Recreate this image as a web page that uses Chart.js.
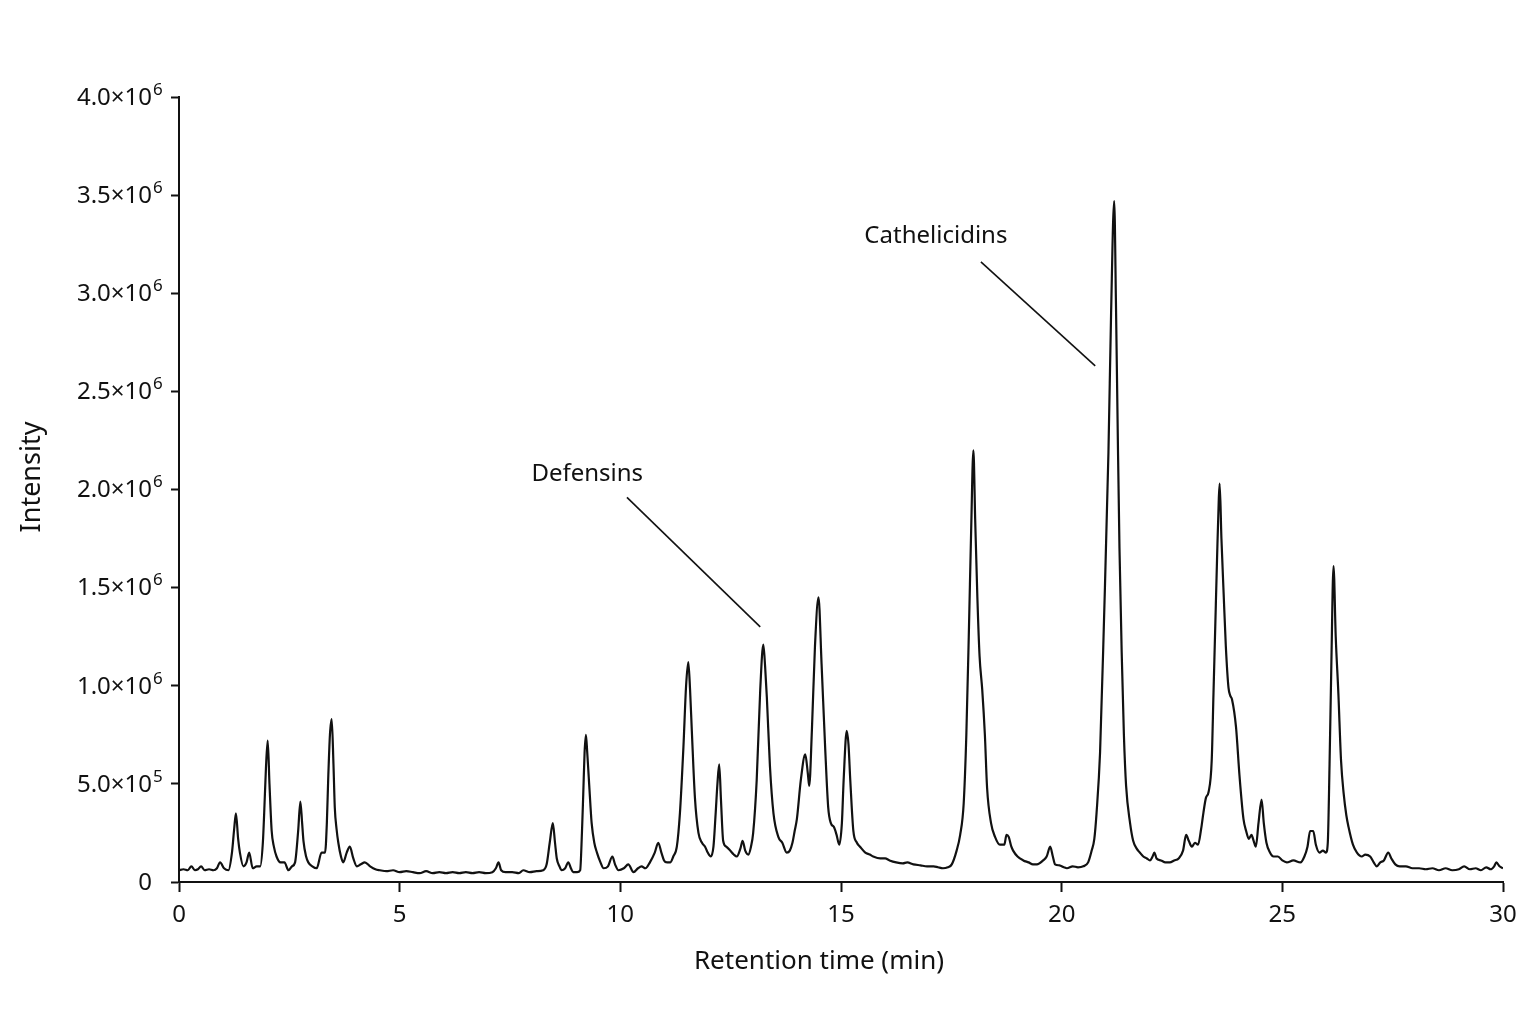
<!DOCTYPE html>
<html>
<head>
<meta charset="utf-8">
<script src="https://cdn.jsdelivr.net/npm/chart.js@4.4.0/dist/chart.umd.min.js"></script>
<style>
  html, body { margin: 0; padding: 0; background: #fff; }
  #wrap { width: 1536px; height: 1024px; }
</style>
</head>
<body>
<div id="wrap"><canvas id="chartCanvas" width="1536" height="1024"></canvas></div>
<script>
"use strict";

// retention time (min)
const retentionTime = [
  0.00, 0.10, 0.20, 0.28, 0.36, 0.43, 0.50, 0.58, 0.68, 0.78, 0.86, 0.93, 1.02, 1.12, 1.20, 1.25, 1.29, 1.34, 1.38, 1.46,
  1.53, 1.59, 1.67, 1.76, 1.84, 1.90, 1.93, 1.97, 2.01, 2.05, 2.10, 2.15, 2.21, 2.30, 2.39, 2.48, 2.56, 2.63, 2.70, 2.75,
  2.79, 2.82, 2.88, 2.93, 3.02, 3.12, 3.23, 3.31, 3.35, 3.38, 3.42, 3.46, 3.50, 3.53, 3.57, 3.61, 3.67, 3.72, 3.80, 3.87,
  3.95, 4.03, 4.12, 4.21, 4.33, 4.45, 4.55, 4.70, 4.85, 5.00, 5.15, 5.30, 5.45, 5.60, 5.75, 5.90, 6.05, 6.20, 6.35, 6.50,
  6.65, 6.80, 6.95, 7.10, 7.18, 7.24, 7.30, 7.40, 7.55, 7.70, 7.80, 7.95, 8.10, 8.25, 8.33, 8.40, 8.47, 8.52, 8.56, 8.62,
  8.67, 8.75, 8.82, 8.88, 8.93, 9.02, 9.09, 9.13, 9.16, 9.19, 9.22, 9.25, 9.28, 9.32, 9.35, 9.41, 9.47, 9.55, 9.62, 9.72,
  9.82, 9.88, 9.96, 10.08, 10.18, 10.30, 10.40, 10.48, 10.57, 10.67, 10.78, 10.86, 10.93, 10.99, 11.06, 11.13, 11.20, 11.28, 11.35, 11.43,
  11.49, 11.54, 11.58, 11.62, 11.69, 11.77, 11.85, 11.92, 11.98, 12.05, 12.11, 12.16, 12.20, 12.24, 12.28, 12.33, 12.40, 12.49, 12.57, 12.64,
  12.72, 12.77, 12.83, 12.90, 12.96, 13.01, 13.09, 13.17, 13.24, 13.28, 13.32, 13.39, 13.47, 13.58, 13.67, 13.77, 13.84, 13.90, 13.95, 14.00,
  14.09, 14.19, 14.25, 14.28, 14.34, 14.41, 14.49, 14.56, 14.64, 14.71, 14.77, 14.84, 14.90, 14.96, 15.02, 15.06, 15.13, 15.17, 15.21, 15.28,
  15.36, 15.43, 15.55, 15.65, 15.73, 15.89, 16.00, 16.10, 16.25, 16.40, 16.50, 16.64, 16.80, 16.95, 17.10, 17.20, 17.31, 17.42, 17.51, 17.62,
  17.70, 17.78, 17.84, 17.90, 17.95, 18.00, 18.04, 18.09, 18.14, 18.20, 18.26, 18.31, 18.40, 18.49, 18.60, 18.70, 18.75, 18.80, 18.86, 18.90,
  19.00, 19.13, 19.25, 19.35, 19.44, 19.58, 19.66, 19.74, 19.80, 19.85, 19.95, 20.05, 20.12, 20.25, 20.37, 20.49, 20.60, 20.68, 20.74, 20.79,
  20.87, 20.96, 21.06, 21.12, 21.19, 21.23, 21.27, 21.31, 21.36, 21.41, 21.46, 21.55, 21.62, 21.70, 21.77, 21.85, 21.93, 22.00, 22.06, 22.10,
  22.15, 22.25, 22.35, 22.45, 22.55, 22.65, 22.75, 22.82, 22.88, 22.95, 23.02, 23.09, 23.16, 23.21, 23.27, 23.33, 23.40, 23.44, 23.48, 23.52,
  23.56, 23.58, 23.62, 23.67, 23.72, 23.78, 23.82, 23.86, 23.95, 24.03, 24.12, 24.18, 24.24, 24.30, 24.35, 24.40, 24.46, 24.53, 24.58, 24.64,
  24.72, 24.80, 24.90, 25.00, 25.10, 25.25, 25.41, 25.50, 25.57, 25.63, 25.70, 25.76, 25.84, 25.92, 25.99, 26.03, 26.07, 26.11, 26.16, 26.21,
  26.27, 26.33, 26.39, 26.45, 26.50, 26.60, 26.69, 26.80, 26.88, 26.99, 27.07, 27.14, 27.22, 27.30, 27.40, 27.47, 27.56, 27.66, 27.80, 27.95,
  28.10, 28.25, 28.40, 28.55, 28.70, 28.85, 29.00, 29.12, 29.25, 29.38, 29.50, 29.62, 29.72, 29.80, 29.85, 29.92, 30.00
];

// intensity, in units of 10^6
const intensityE6 = [
  0.06, 0.065, 0.06, 0.08, 0.06, 0.065, 0.08, 0.06, 0.065, 0.06, 0.07, 0.10, 0.07, 0.06, 0.15, 0.27, 0.35, 0.22, 0.15, 0.08,
  0.10, 0.15, 0.07, 0.08, 0.08, 0.20, 0.35, 0.58, 0.72, 0.50, 0.26, 0.18, 0.13, 0.10, 0.10, 0.06, 0.08, 0.10, 0.26, 0.41,
  0.30, 0.21, 0.13, 0.10, 0.08, 0.07, 0.15, 0.15, 0.30, 0.52, 0.75, 0.83, 0.60, 0.38, 0.27, 0.20, 0.13, 0.10, 0.15, 0.18,
  0.12, 0.08, 0.09, 0.10, 0.08, 0.065, 0.06, 0.055, 0.06, 0.05, 0.055, 0.05, 0.045, 0.055, 0.045, 0.05, 0.045, 0.05, 0.045, 0.05,
  0.045, 0.05, 0.045, 0.05, 0.07, 0.10, 0.06, 0.05, 0.05, 0.045, 0.06, 0.05, 0.055, 0.06, 0.09, 0.20, 0.30, 0.20, 0.12, 0.08,
  0.06, 0.07, 0.10, 0.07, 0.05, 0.05, 0.06, 0.25, 0.45, 0.66, 0.75, 0.66, 0.55, 0.40, 0.30, 0.20, 0.15, 0.10, 0.07, 0.08,
  0.13, 0.09, 0.06, 0.07, 0.09, 0.05, 0.07, 0.08, 0.07, 0.10, 0.15, 0.20, 0.15, 0.11, 0.10, 0.10, 0.13, 0.18, 0.35, 0.69,
  1.00, 1.12, 0.98, 0.77, 0.43, 0.25, 0.20, 0.18, 0.15, 0.13, 0.18, 0.35, 0.50, 0.60, 0.42, 0.21, 0.18, 0.16, 0.14, 0.13,
  0.17, 0.21, 0.16, 0.14, 0.18, 0.25, 0.52, 0.98, 1.21, 1.10, 0.94, 0.59, 0.35, 0.23, 0.20, 0.15, 0.16, 0.20, 0.26, 0.32,
  0.52, 0.65, 0.55, 0.49, 0.77, 1.20, 1.45, 1.11, 0.69, 0.38, 0.30, 0.28, 0.24, 0.19, 0.30, 0.52, 0.77, 0.70, 0.52, 0.26,
  0.20, 0.18, 0.15, 0.14, 0.13, 0.12, 0.12, 0.11, 0.10, 0.095, 0.10, 0.09, 0.085, 0.08, 0.08, 0.075, 0.07, 0.075, 0.09, 0.16,
  0.24, 0.40, 0.75, 1.30, 1.80, 2.20, 1.85, 1.45, 1.15, 0.98, 0.75, 0.48, 0.30, 0.23, 0.19, 0.19, 0.24, 0.23, 0.18, 0.16,
  0.13, 0.11, 0.10, 0.09, 0.09, 0.11, 0.13, 0.18, 0.13, 0.09, 0.085, 0.075, 0.07, 0.08, 0.075, 0.08, 0.10, 0.16, 0.22, 0.35,
  0.66, 1.34, 2.19, 2.90, 3.47, 2.95, 2.30, 1.70, 1.17, 0.75, 0.49, 0.30, 0.21, 0.17, 0.15, 0.13, 0.12, 0.11, 0.13, 0.15,
  0.12, 0.11, 0.10, 0.10, 0.11, 0.12, 0.16, 0.24, 0.21, 0.18, 0.20, 0.19, 0.27, 0.35, 0.43, 0.46, 0.62, 0.96, 1.30, 1.64,
  1.95, 2.03, 1.75, 1.47, 1.20, 0.99, 0.95, 0.93, 0.79, 0.54, 0.32, 0.26, 0.22, 0.24, 0.21, 0.18, 0.30, 0.42, 0.30, 0.20,
  0.15, 0.13, 0.13, 0.11, 0.10, 0.11, 0.10, 0.13, 0.18, 0.26, 0.26, 0.19, 0.15, 0.16, 0.15, 0.20, 0.60, 1.10, 1.61, 1.25,
  0.96, 0.62, 0.45, 0.34, 0.28, 0.19, 0.15, 0.13, 0.14, 0.13, 0.10, 0.08, 0.10, 0.11, 0.15, 0.12, 0.09, 0.08, 0.08, 0.07,
  0.07, 0.065, 0.07, 0.06, 0.07, 0.06, 0.065, 0.08, 0.065, 0.07, 0.06, 0.075, 0.065, 0.08, 0.10, 0.08, 0.07
];

const xTickValues = [0, 5, 10, 15, 20, 25, 30];
// y tick labels: mantissa part and power-of-ten exponent (drawn raised)
const yTickBase = ["0", "5.0×10", "1.0×10", "1.5×10", "2.0×10", "2.5×10", "3.0×10", "3.5×10", "4.0×10"];
const yTickExponent = ["", "5", "6", "6", "6", "6", "6", "6", "6"];
const yTickValues = [0, 5e5, 1e6, 1.5e6, 2e6, 2.5e6, 3e6, 3.5e6, 4e6];

const xAxisTitle = "Retention time (min)";
const yAxisTitle = "Intensity";

// callout labels: text anchor and leader line, in data units (min, ×10^6)
const calloutNames = ["Defensins", "Cathelicidins"];
const calloutTextAt = [[9.25, 2.08], [17.15, 3.29]];
const calloutLineFrom = [[10.15, 1.96], [18.17, 3.16]];
const calloutLineTo = [[13.17, 1.30], [20.76, 2.63]];

const FONT = "'Noto Sans', 'Open Sans', sans-serif";
const INK = "#111";

const points = retentionTime.map((t, i) => ({ x: t, y: intensityE6[i] * 1e6 }));

const labelsPlugin = {
  id: "labels",
  afterDraw(chart) {
    const { ctx, scales, chartArea } = chart;
    const xs = scales.x, ys = scales.y;
    ctx.save();
    ctx.fillStyle = INK;
    ctx.textBaseline = "middle";

    // y tick labels with superscript exponents
    const right = chartArea.left - 27;
    yTickValues.forEach((v, i) => {
      const y = ys.getPixelForValue(v);
      ctx.font = "24px " + FONT;
      ctx.textAlign = "right";
      ctx.fillText(yTickBase[i], right, y + 1);
      if (yTickExponent[i]) {
        ctx.font = "17px " + FONT;
        ctx.textAlign = "left";
        ctx.fillText(yTickExponent[i], right + 1, y - 7);
      }
    });

    // axis titles
    ctx.font = "26px " + FONT;
    ctx.textAlign = "center";
    ctx.fillText(xAxisTitle, chartArea.left + 640, chartArea.bottom + 80);
    ctx.save();
    ctx.translate(32, chartArea.top + 380);
    ctx.rotate(-Math.PI / 2);
    ctx.font = "27px " + FONT;
    ctx.fillText(yAxisTitle, 0, 0);
    ctx.restore();

    // callouts
    ctx.strokeStyle = INK;
    ctx.lineWidth = 1.6;
    ctx.font = "24px " + FONT;
    ctx.textAlign = "center";
    calloutNames.forEach((name, i) => {
      ctx.fillText(name, xs.getPixelForValue(calloutTextAt[i][0]), ys.getPixelForValue(calloutTextAt[i][1] * 1e6));
      ctx.beginPath();
      ctx.moveTo(xs.getPixelForValue(calloutLineFrom[i][0]), ys.getPixelForValue(calloutLineFrom[i][1] * 1e6));
      ctx.lineTo(xs.getPixelForValue(calloutLineTo[i][0]), ys.getPixelForValue(calloutLineTo[i][1] * 1e6));
      ctx.stroke();
    });
    ctx.restore();
  },
};

const ctx = document.getElementById("chartCanvas").getContext("2d");

new Chart(ctx, {
  type: "line",
  data: {
    datasets: [
      {
        label: "Intensity",
        data: points,
        borderColor: INK,
        borderWidth: 2.2,
        pointRadius: 0,
        fill: false,
        cubicInterpolationMode: "monotone",
      },
    ],
  },
  options: {
    responsive: false,
    animation: false,
    layout: { padding: { top: 97, right: 33, left: 0, bottom: 0 } },
    plugins: { legend: { display: false }, tooltip: { enabled: false } },
    scales: {
      x: {
        type: "linear",
        min: 0,
        max: 30,
        afterBuildTicks: (scale) => {
          scale.ticks = xTickValues.map((v) => ({ value: v }));
        },
        afterFit: (scale) => {
          scale.height = 142;
        },
        ticks: {
          color: INK,
          font: { family: FONT, size: 24 },
          padding: 9,
        },
        grid: { display: true, drawOnChartArea: false, tickLength: 10, tickWidth: 2, tickColor: INK },
        border: { display: true, color: INK, width: 2 },
      },
      y: {
        min: 0,
        max: 4e6,
        afterBuildTicks: (scale) => {
          scale.ticks = yTickValues.map((v) => ({ value: v }));
        },
        afterFit: (scale) => {
          scale.width = 179;
        },
        ticks: { display: false },
        grid: { display: true, drawOnChartArea: false, tickLength: 8, tickWidth: 2, tickColor: INK },
        border: { display: true, color: INK, width: 2 },
      },
    },
  },
  plugins: [labelsPlugin],
});
</script>
</body>
</html>
